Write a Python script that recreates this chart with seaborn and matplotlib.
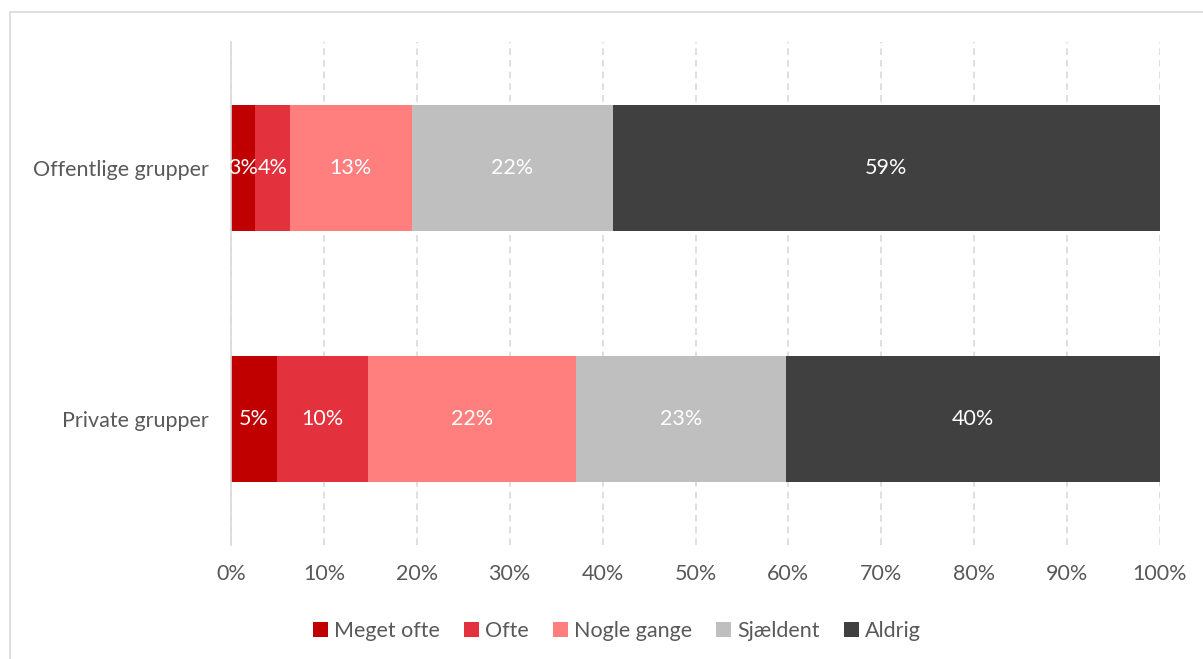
import matplotlib
matplotlib.use("Agg")
import matplotlib.pyplot as plt
from matplotlib.patches import Rectangle, Patch
import numpy as np
import pandas as pd
import seaborn as sns

groups = ["Offentlige grupper", "Private grupper"]
answers = ["Meget ofte", "Ofte", "Nogle gange", "Sjældent", "Aldrig"]
offentlige = [2.6, 3.7, 13.2, 21.6, 58.9]
private = [4.9, 9.8, 22.4, 22.6, 40.3]
colors = ["#C00000", "#E3313D", "#FF7F7F", "#BFBFBF", "#404040"]
tick_labels = [f"{v}%" for v in range(0, 101, 10)]

sns.set_theme(style="white")
plt.rcParams["font.family"] = ["Lato", "DejaVu Sans"]
FS = 15.5

values = np.array([offentlige, private])
cum = values.cumsum(axis=1)

fig = plt.figure(figsize=(12.03, 6.59), dpi=100)
fig.patches.append(Rectangle((10 / 1203, -0.01), 1.0, 1 - 12 / 659 + 0.01,
                             transform=fig.transFigure, fill=False,
                             edgecolor="#D9D9D9", linewidth=1.2))
ax = fig.add_axes([231 / 1203, 1 - 545 / 659, (1160 - 231) / 1203, (545 - 42) / 659])

# stacked bars: draw running totals from the widest down so each segment shows
for j in range(len(answers) - 1, -1, -1):
    df = pd.DataFrame({"gruppe": groups, "total": cum[:, j]})
    sns.barplot(data=df, x="total", y="gruppe", order=groups, color=colors[j],
                width=0.5, saturation=1, linewidth=0, ax=ax)

for i in range(len(groups)):
    for j in range(len(answers)):
        center = cum[i, j] - values[i, j] / 2
        ax.text(center, i, f"{values[i, j]:.0f}%", ha="center", va="center",
                color="white", fontsize=FS)

ax.set_xlim(0, 100)
ax.set_ylim(1.5, -0.5)
ax.set_xticks(range(0, 101, 10))
ax.set_xticklabels(tick_labels)
ax.set_xlabel("")
ax.set_ylabel("")
ax.tick_params(axis="x", colors="#595959", labelsize=FS, length=0, pad=14)
ax.tick_params(axis="y", colors="#595959", labelsize=FS, length=0, pad=16)
ax.xaxis.grid(True, color="#D9D9D9", linestyle=(0, (4, 3)), linewidth=1.2)
ax.set_axisbelow(True)
for side in ["top", "right", "bottom"]:
    ax.spines[side].set_visible(False)
ax.spines["left"].set_color("#D9D9D9")
ax.spines["left"].set_linewidth(1.2)

handles = [Patch(facecolor=c, edgecolor="none") for c in colors]
fig.legend(handles, answers, loc="center", bbox_to_anchor=(617 / 1203, 1 - 631 / 659),
           ncol=5, frameon=False, fontsize=FS, labelcolor="#595959",
           handlelength=0.7, handleheight=0.7, handletextpad=0.3, columnspacing=1.1)

fig.savefig("out.png", dpi=100)
